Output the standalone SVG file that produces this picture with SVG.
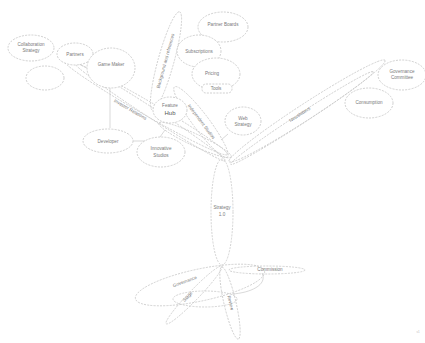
<svg xmlns="http://www.w3.org/2000/svg" width="425" height="343" viewBox="0 0 425 343">
<style>
  .n{fill:#fff;stroke:#c4c4c4;stroke-width:0.8;stroke-dasharray:2 1.2}
  .e{fill:none;stroke:#c8c8c8;stroke-width:0.8;stroke-dasharray:2 1.2}
  .l{fill:none;stroke:#c8c8c8;stroke-width:0.7}
  text{font-family:"Liberation Sans",Arial,sans-serif;font-size:4.6px;fill:#7a7a7a;text-anchor:middle}
  .b{font-size:6px;fill:#555}
</style>
<rect width="425" height="343" fill="#fff"/>
<g id="connectors">
  <ellipse class="e" cx="145" cy="107" rx="95" ry="7" transform="rotate(30 145 107)"/>
  <ellipse class="e" cx="150" cy="112" rx="90" ry="5" transform="rotate(33 150 112)"/>
  <ellipse class="e" cx="166" cy="61" rx="51" ry="8" transform="rotate(-74.6 166 61)"/>
  <ellipse class="e" cx="201" cy="122" rx="44" ry="8" transform="rotate(53 201 122)"/>
  <ellipse class="e" cx="195" cy="140" rx="40" ry="6" transform="rotate(25 195 140)"/>
  <ellipse class="e" cx="307" cy="111" rx="93" ry="8" transform="rotate(-33 307 111)"/>
  <ellipse class="e" cx="302" cy="118" rx="85" ry="5" transform="rotate(-33 302 118)"/>
  <ellipse class="e" cx="222" cy="212" rx="11" ry="53"/>
  <ellipse class="e" cx="267" cy="270" rx="38" ry="4"/>
  <ellipse class="e" cx="200" cy="285" rx="66" ry="16" transform="rotate(-12 200 285)"/>
  <ellipse class="e" cx="205" cy="299" rx="32" ry="8"/>
  <ellipse class="e" cx="194" cy="295" rx="40" ry="5" transform="rotate(-46 194 295)"/>
  <ellipse class="e" cx="230" cy="303" rx="37" ry="6" transform="rotate(77 230 303)"/>
  <path class="l" d="M262 273 C268 285 250 293 232 294"/>
  <line class="l" x1="110" y1="88" x2="110" y2="128"/>
  <line class="l" x1="133" y1="141" x2="145" y2="141"/>
  <line class="l" x1="228" y1="134" x2="221" y2="140"/>
  <line class="l" x1="160" y1="137" x2="165" y2="130"/>
  <line class="l" x1="208" y1="80" x2="222" y2="80"/>
</g>
<g id="n1"><ellipse class="n" cx="31" cy="48" rx="23" ry="13"/><text x="31" y="46">Collaboration</text><text x="31" y="52">Strategy</text></g>
<g id="n2"><ellipse class="n" cx="75" cy="54" rx="18" ry="11"/><text x="75" y="56">Partners</text></g>
<g id="n3"><ellipse class="n" cx="111" cy="68" rx="24" ry="20"/><text x="111" y="66">Game Maker</text></g>
<g id="n4"><ellipse class="n" cx="45" cy="78" rx="19" ry="12"/></g>
<g id="n5"><ellipse class="n" cx="223" cy="27" rx="25" ry="15"/><text x="223" y="26">Partner Boards</text></g>
<g id="n6"><ellipse class="n" cx="199" cy="51" rx="22" ry="16"/><text x="199" y="53">Subscriptions</text></g>
<g id="n7"><ellipse class="n" cx="216" cy="74" rx="24" ry="16"/><text x="212" y="75">Pricing</text><rect x="202" y="84" width="30" height="9" rx="4" class="n"/><text x="216" y="90">Tools</text></g>
<g id="n8"><text x="166" y="62" transform="rotate(-74.6 166 61)">Background and references</text></g>
<g id="n9"><ellipse class="n" cx="170" cy="110" rx="17" ry="13"/><text x="170" y="107">Feature</text><text class="b" x="170" y="115">Hub</text></g>
<g id="n10"><text x="201" y="123" transform="rotate(53 201 122)">Independent Studios</text></g>
<g id="n11"><ellipse class="n" cx="243" cy="121" rx="18" ry="14"/><text x="243" y="120">Web</text><text x="243" y="126">Strategy</text></g>
<g id="n12"><text x="130" y="111" transform="rotate(30 130 110)">Investor Relations</text></g>
<g id="n13"><text x="300" y="116" transform="rotate(-33 300 115)">Newsletters</text></g>
<g id="n14"><ellipse class="n" cx="402" cy="75" rx="24" ry="15"/><text x="402" y="73">Governance</text><text x="402" y="79">Committee</text></g>
<g id="n15"><ellipse class="n" cx="369" cy="103" rx="24" ry="15"/><text x="369" y="104">Consumption</text></g>
<g id="n16"><ellipse class="n" cx="108" cy="141" rx="25" ry="12"/><text x="108" y="143">Developer</text></g>
<g id="n17"><ellipse class="n" cx="161" cy="152" rx="24" ry="15"/><text x="161" y="150">Innovative</text><text x="161" y="157">Studios</text></g>
<g id="n18"><text x="222" y="209">Strategy</text><text x="222" y="216">1.0</text></g>
<g id="n19"><text x="270" y="271">Commission</text></g>
<g id="n20"><text x="185" y="283" transform="rotate(-20 185 282)">Governance</text></g>
<g id="n21"><text x="188" y="298" transform="rotate(-46 188 297)">Stage</text></g>
<g id="n22"><text x="230" y="304" transform="rotate(77 230 303)">Review</text></g>
<text x="418" y="333" style="font-size:3px;fill:#bbb">v1</text>
</svg>
